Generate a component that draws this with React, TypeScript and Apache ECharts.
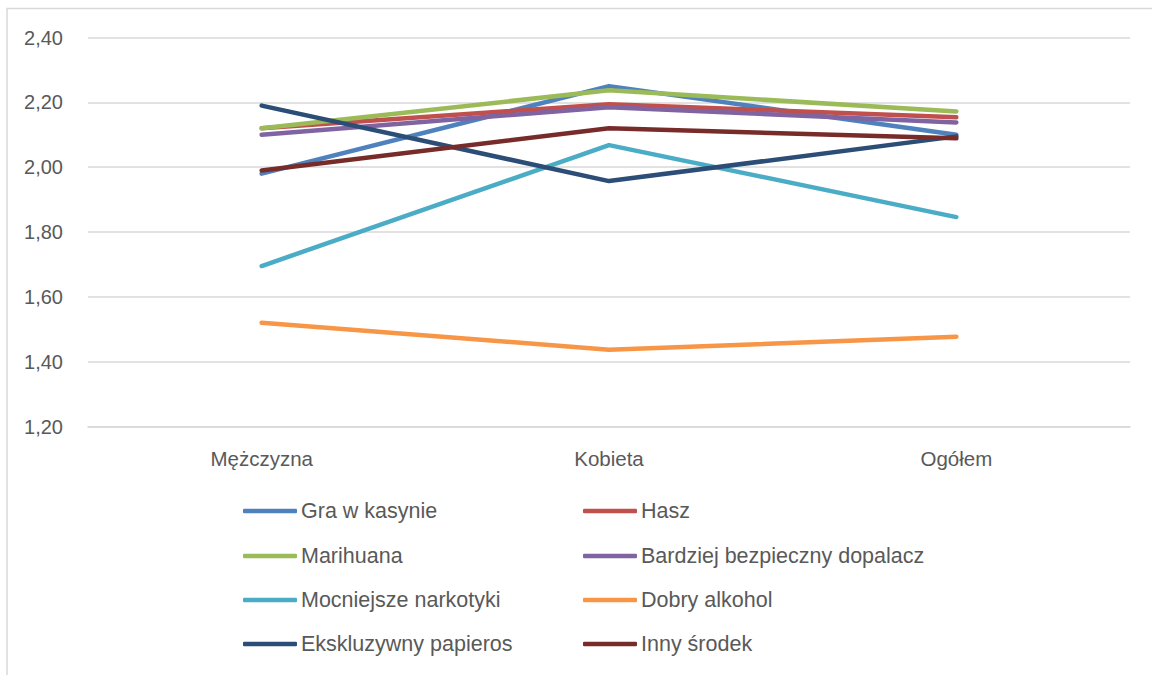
import React, { useEffect, useRef } from "react";
import * as echarts from "echarts";

const categories = ["Mężczyzna", "Kobieta", "Ogółem"];
const seriesNames = [
  "Gra w kasynie",
  "Hasz",
  "Marihuana",
  "Bardziej bezpieczny dopalacz",
  "Mocniejsze narkotyki",
  "Dobry alkohol",
  "Ekskluzywny papieros",
  "Inny środek",
];
const graWKasynie = [1.98, 2.25, 2.10];
const hasz = [2.12, 2.194, 2.154];
const marihuana = [2.12, 2.237, 2.172];
const bardziejBezpieczny = [2.10, 2.185, 2.138];
const mocniejszeNarkotyki = [1.695, 2.068, 1.846];
const dobryAlkohol = [1.52, 1.437, 1.477];
const ekskluzywnyPapieros = [2.19, 1.957, 2.095];
const innySrodek = [1.99, 2.12, 2.089];
const seriesValues = [
  graWKasynie,
  hasz,
  marihuana,
  bardziejBezpieczny,
  mocniejszeNarkotyki,
  dobryAlkohol,
  ekskluzywnyPapieros,
  innySrodek,
];
const colors = [
  "#4F81BD",
  "#C0504D",
  "#9BBB59",
  "#8064A2",
  "#4BACC6",
  "#F79646",
  "#2C4D75",
  "#772C2A",
];
const yTicks = { min: 1.2, max: 2.4, interval: 0.2 };

const FONT = "Liberation Sans";
const TEXT = "#595959";

export default function App() {
  const ref = useRef<HTMLDivElement>(null);
  useEffect(() => {
    if (!ref.current) return;
    const chart = echarts.init(ref.current, null, { renderer: "svg" });
    const legendCols = [243, 583];
    const legendRows = [512, 557, 601, 645];
    const legends = seriesNames.map((name, i) => ({
      show: true,
      data: [name],
      left: legendCols[i % 2],
      top: legendRows[Math.floor(i / 2)] - 12,
      icon: "roundRect",
      itemWidth: 54,
      itemHeight: 4.5,
      itemStyle: { borderWidth: 0 },
      selectedMode: false,
      textStyle: { fontFamily: FONT, fontSize: 21.5, color: TEXT, padding: [0, 0, 0, -1] },
      padding: 0,
    }));
    chart.setOption({
      animation: false,
      color: colors,
      grid: { left: 88, right: 22, top: 37.5, bottom: 675 - 426.5, containLabel: false },
      graphic: [
        {
          type: "rect",
          shape: { x: 7, y: 8.5, width: 1200, height: 720 },
          style: { fill: "none", stroke: "#d9d9d9", lineWidth: 1.5 },
          silent: true,
        },
      ],
      xAxis: {
        type: "category",
        data: categories,
        boundaryGap: true,
        axisLine: { show: true, lineStyle: { color: "#d9d9d9", width: 1.5 } },
        axisTick: { show: false },
        axisLabel: { fontFamily: FONT, fontSize: 20.5, color: TEXT, margin: 21 },
      },
      yAxis: {
        type: "value",
        min: yTicks.min,
        max: yTicks.max,
        interval: yTicks.interval,
        axisLine: { show: false },
        axisTick: { show: false },
        splitLine: { lineStyle: { color: "#d9d9d9", width: 1.5 } },
        axisLabel: {
          fontFamily: FONT,
          fontSize: 20,
          color: TEXT,
          margin: 25,
          formatter: (v: number) => v.toFixed(2).replace(".", ","),
        },
      },
      legend: legends,
      series: seriesNames.map((name, i) => ({
        name,
        type: "line",
        data: seriesValues[i],
        symbol: "none",
        lineStyle: { width: 4.5, color: colors[i], cap: "round", join: "round" },
        itemStyle: { color: colors[i] },
      })),
    });
    return () => chart.dispose();
  }, []);
  return (
    <div
      ref={ref}
      style={{ position: "fixed", left: 0, top: 0, width: 1152, height: 675, background: "#fff" }}
    />
  );
}
